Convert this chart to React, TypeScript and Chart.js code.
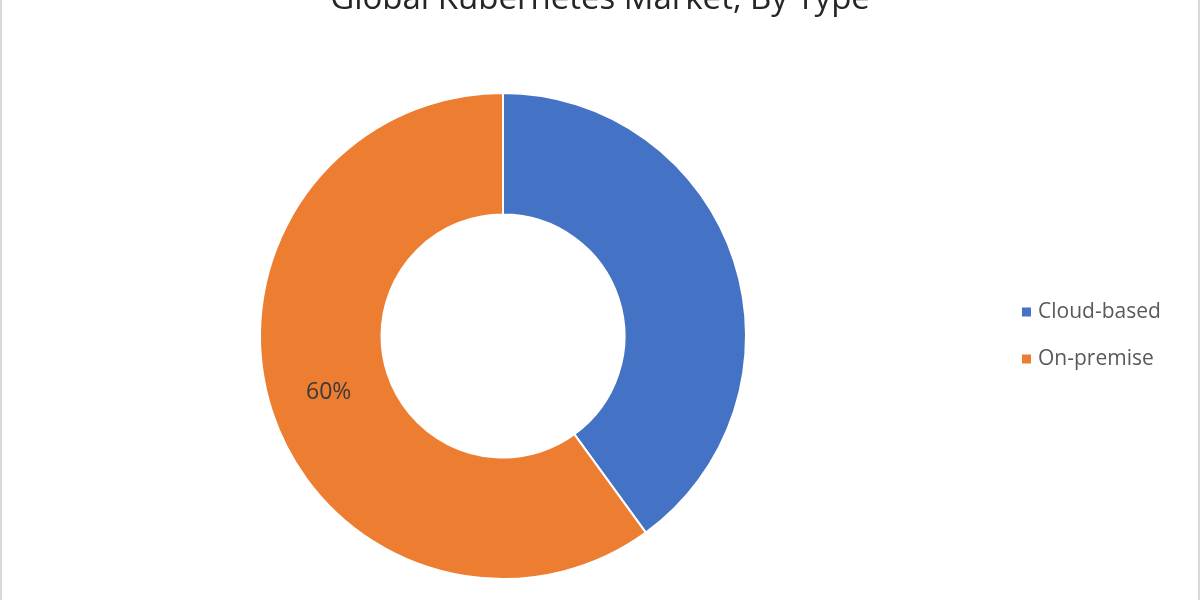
import React, { useEffect, useRef } from 'react';
import { Chart, registerables } from 'chart.js';

Chart.register(...registerables);

const title = 'Global Kubernetes Market, By Type';
const labels = ['Cloud-based', 'On-premise'];
const shares = [40, 60];
const colors = ['#4472C4', '#ED7D31'];
// only the on-premise slice carries a label in the source
const showLabel = [false, true];

const FONT = '"Open Sans", "Noto Sans", sans-serif';

const extras = {
  id: 'extras',
  afterDraw(chart: any) {
    const ctx = chart.ctx;
    ctx.save();

    // title, clipped by the top edge like the original
    ctx.fillStyle = '#262626';
    ctx.font = `33px ${FONT}`;
    ctx.textAlign = 'center';
    ctx.textBaseline = 'alphabetic';
    ctx.fillText(title, 598, 9);

    // slice labels
    const meta = chart.getDatasetMeta(0);
    ctx.font = `23px ${FONT}`;
    ctx.fillStyle = '#3a3a3a';
    ctx.textBaseline = 'middle';
    meta.data.forEach((arc: any, i: number) => {
      if (!showLabel[i]) return;
      const p = arc.getCenterPoint();
      ctx.fillText(shares[i] + '%', p.x - 1, p.y);
    });

    // legend
    ctx.font = `21px ${FONT}`;
    ctx.textAlign = 'left';
    chart.data.labels.forEach((lab: string, i: number) => {
      const y = 312 + i * 47;
      ctx.fillStyle = colors[i];
      ctx.fillRect(1020, y - 4.5, 9, 9);
      ctx.fillStyle = '#595959';
      ctx.fillText(lab, 1036, y);
    });
    ctx.restore();
  },
};

export default function App() {
  const ref = useRef<HTMLCanvasElement>(null);

  useEffect(() => {
    document.body.style.margin = '0';
    if (!ref.current) return;
    const chart = new Chart(ref.current, {
      type: 'doughnut',
      data: {
        labels,
        datasets: [
          {
            data: shares,
            backgroundColor: colors,
            borderColor: '#ffffff',
            borderWidth: 2,
            hoverOffset: 0,
          },
        ],
      },
      options: {
        animation: false,
        responsive: false,
        cutout: '50%',
        layout: { padding: { top: 90, bottom: 18, left: 257, right: 451 } },
        plugins: {
          legend: { display: false },
          tooltip: { enabled: false },
        },
      },
      plugins: [extras],
    });
    return () => chart.destroy();
  }, []);

  return (
    <div
      style={{
        position: 'absolute',
        top: 0,
        left: 0,
        width: 1200,
        height: 600,
        background: '#fff',
        boxSizing: 'border-box',
        borderLeft: '2px solid #d9d9d9',
        borderRight: '2px solid #d9d9d9',
      }}
    >
      <canvas ref={ref} width={1196} height={600} style={{ display: 'block' }} />
    </div>
  );
}
